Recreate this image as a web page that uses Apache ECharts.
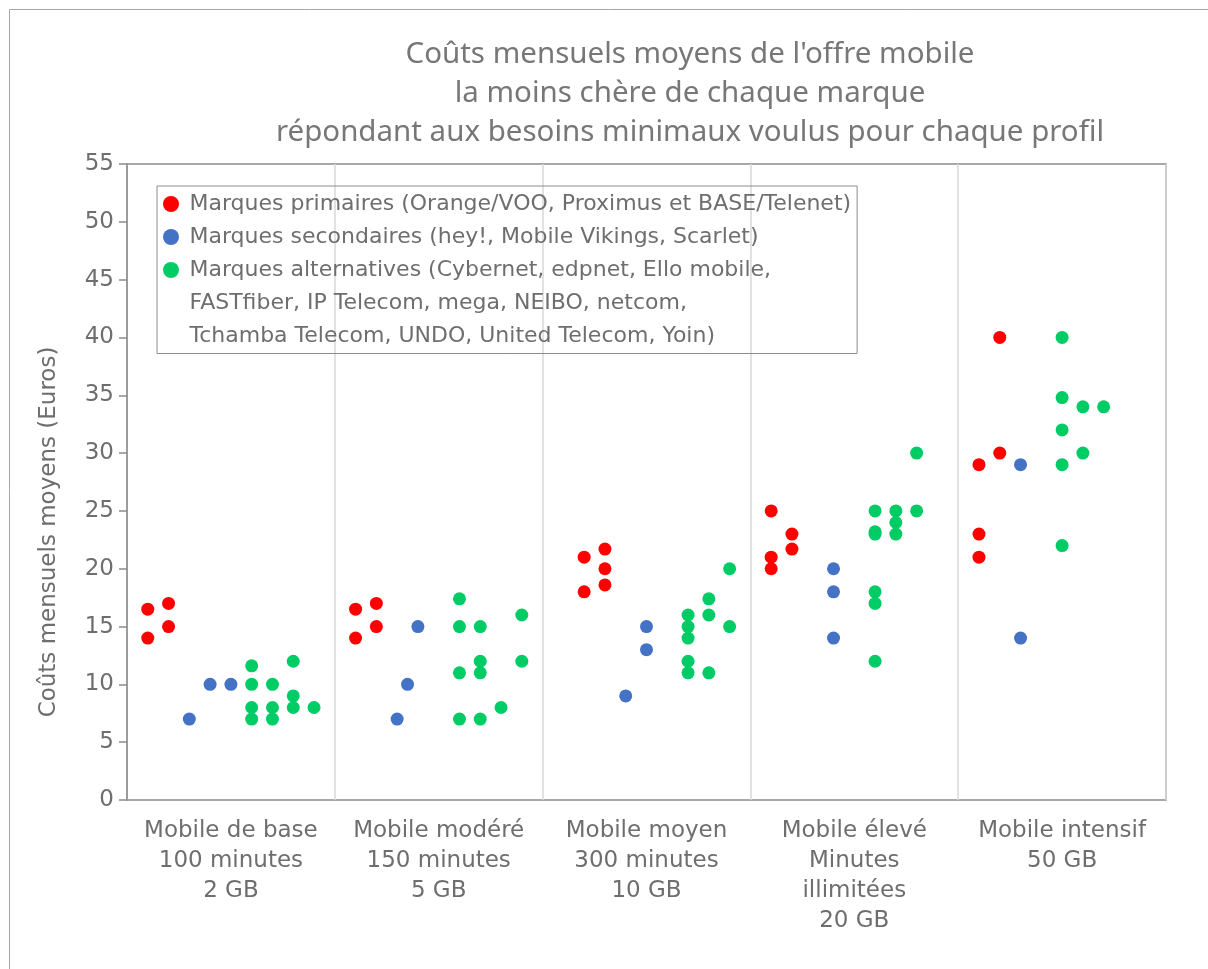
<!DOCTYPE html>
<html>
<head>
<meta charset="utf-8">
<title>Coûts mensuels moyens de l'offre mobile</title>
<script src="https://cdn.jsdelivr.net/npm/echarts@6/dist/echarts.min.js"></script>
<style>
  html, body { margin: 0; padding: 0; background: #fff; }
  #main { width: 1208px; height: 969px; }
</style>
</head>
<body>
<div id="main"></div>
<script>
// profils (libellés de l'axe X), une bande de 10 unités par profil
var categories = [
    'Mobile de base\n100 minutes\n2 GB',
    'Mobile modéré\n150 minutes\n5 GB',
    'Mobile moyen\n300 minutes\n10 GB',
    'Mobile élevé\nMinutes\nillimitées\n20 GB',
    'Mobile intensif\n50 GB'
];

// axe Y : 0 -> 55, pas de 5
var yMin = 0;
var yMax = 55;
var yStep = 5;

var seriesNames = [
    'Marques primaires (Orange/VOO, Proximus et BASE/Telenet)',
    'Marques secondaires (hey!, Mobile Vikings, Scarlet)',
    'Marques alternatives'
];
var alternativesLines = [
    'Marques alternatives (Cybernet, edpnet, Ello mobile,',
    'FASTfiber, IP Telecom, mega, NEIBO, netcom,',
    'Tchamba Telecom, UNDO, United Telecom, Yoin)'
];

// [position x, coût en euros]
var primaires = [
    [1, 16.5], [1, 14], [2, 17], [2, 15],
    [11, 16.5], [11, 14], [12, 17], [12, 15],
    [22, 21], [22, 18], [23, 21.7], [23, 20], [23, 18.6],
    [31, 25], [31, 21], [31, 20], [32, 23], [32, 21.7],
    [41, 29], [41, 23], [41, 21], [42, 40], [42, 30]
];
var secondaires = [
    [3, 7], [4, 10], [5, 10],
    [13, 7], [13.5, 10], [14, 15],
    [24, 9], [25, 15], [25, 13],
    [34, 20], [34, 18], [34, 14],
    [43, 29], [43, 14]
];
var alternatives = [
    [6, 11.6], [6, 10], [6, 8], [6, 7], [7, 10], [7, 8], [7, 7], [8, 12], [8, 9], [8, 8], [9, 8],
    [16, 17.4], [16, 15], [16, 11], [16, 7], [17, 15], [17, 12], [17, 11], [17, 7], [18, 8], [19, 16], [19, 12],
    [27, 16], [27, 15], [27, 14], [27, 12], [27, 11], [28, 17.4], [28, 16], [28, 11], [29, 20], [29, 15],
    [36, 25], [36, 23.2], [36, 23], [36, 18], [36, 17], [36, 12], [37, 25], [37, 24], [37, 23], [38, 30], [38, 25],
    [45, 40], [45, 34.8], [45, 32], [45, 29], [45, 22], [46, 34], [46, 30], [47, 34]
];

var colors = ['#ff0000', '#4472c4', '#00cc66'];
var textColor = '#6e6e6e';
var axisColor = '#8c8c8c';
var font = 'DejaVu Sans';

var myChart = echarts.init(document.getElementById('main'));

var option = {
    animation: false,
    backgroundColor: '#fff',
    color: colors,
    title: {
        text: "Coûts mensuels moyens de l'offre mobile\nla moins chère de chaque marque\nrépondant aux besoins minimaux voulus pour chaque profil",
        left: 690,
        top: 35,
        textAlign: 'center',
        padding: 0,
        textStyle: {
            fontFamily: 'Noto Sans',
            fontWeight: 'normal',
            fontSize: 29.5,
            lineHeight: 39,
            color: '#777777'
        }
    },
    graphic: [{
        type: 'rect',
        z: -10,
        shape: { x: 9.5, y: 9.5, width: 1300, height: 1100 },
        style: { fill: 'none', stroke: '#a6a6a6', lineWidth: 1 }
    }],
    legend: [{
        data: [seriesNames[0], seriesNames[1]],
        orient: 'vertical',
        left: 157,
        top: 186,
        icon: 'circle',
        itemWidth: 27,
        itemHeight: 16,
        itemGap: 0,
        padding: [1.5, 6, 100, 6],
        borderColor: axisColor,
        borderWidth: 1,
        textStyle: { fontFamily: font, fontSize: 22, lineHeight: 33, color: textColor }
    }, {
        data: [seriesNames[2]],
        orient: 'vertical',
        left: 163,
        top: 187.5,
        icon: 'circle',
        itemWidth: 27,
        itemHeight: 16,
        padding: 0,
        formatter: function () {
            return '\n\n' + alternativesLines.join('\n');
        },
        textStyle: { fontFamily: font, fontSize: 22, lineHeight: 33, color: textColor }
    }],
    grid: {
        left: 127,
        right: 42,
        top: 164,
        bottom: 169,
        show: true,
        borderColor: axisColor,
        borderWidth: 1.5
    },
    xAxis: [{
        type: 'value',
        min: 0,
        max: 50,
        interval: 10,
        axisLine: { show: false },
        axisTick: { show: false },
        axisLabel: { show: false },
        splitLine: { show: true, lineStyle: { color: '#d9d9d9', width: 1.5 } }
    }, {
        type: 'category',
        data: categories,
        position: 'bottom',
        boundaryGap: true,
        axisLine: { show: false },
        axisTick: { show: false },
        splitLine: { show: false },
        axisLabel: {
            margin: 16,
            interval: 0,
            fontFamily: font,
            fontSize: 23,
            lineHeight: 30,
            color: textColor,
            verticalAlign: 'top'
        }
    }],
    yAxis: {
        type: 'value',
        min: yMin,
        max: yMax,
        interval: yStep,
        name: 'Coûts mensuels moyens (Euros)',
        nameLocation: 'middle',
        nameGap: 66,
        nameTextStyle: {
            fontFamily: font,
            fontSize: 23,
            color: textColor,
            padding: [0, 100, 0, 0]
        },
        axisLine: { show: true, lineStyle: { color: axisColor, width: 1.5 } },
        axisTick: { show: true, length: 8, lineStyle: { color: axisColor, width: 1.5 } },
        axisLabel: { margin: 13, fontFamily: font, fontSize: 23, color: textColor },
        splitLine: { show: false }
    },
    series: [{
        name: seriesNames[0],
        type: 'scatter',
        symbolSize: 13,
        itemStyle: { opacity: 1 },
        data: primaires
    }, {
        name: seriesNames[1],
        type: 'scatter',
        symbolSize: 13,
        itemStyle: { opacity: 1 },
        data: secondaires
    }, {
        name: seriesNames[2],
        type: 'scatter',
        symbolSize: 13,
        itemStyle: { opacity: 1 },
        data: alternatives
    }]
};

myChart.setOption(option);
</script>
</body>
</html>
